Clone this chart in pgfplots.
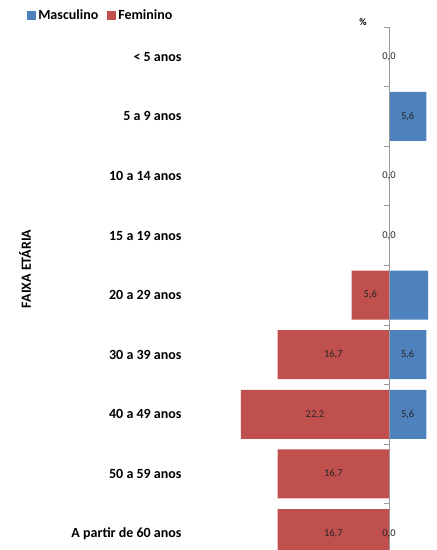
\documentclass[border=0pt]{standalone}
\usepackage{fontspec}
\setmainfont{Carlito}
\usepackage{pgfplots}
\pgfplotsset{compat=1.18}
\usepackage{pgfplotstable}
\definecolor{masc}{RGB}{79,129,189}
\definecolor{fem}{RGB}{192,80,77}

% bars: y = category index (0 = "< 5 anos")
\pgfplotstableread{
y val
1 5.6
4 11.1
5 5.6
6 5.6
}\masctab
\pgfplotstableread{
y val
4 5.6
5 16.7
6 22.2
7 16.7
8 16.7
}\femtab
% data labels (signed value: negative = feminino)
\pgfplotstableread{
y val
0 0
1 5.6
2 0
3 0
4 -5.6
5 -16.7
5 5.6
6 -22.2
6 5.6
7 -16.7
8 -16.7
8 0
}\labtab

\begin{document}
\begin{tikzpicture}
\useasboundingbox (0,0) rectangle (437pt,550pt);
\begin{axis}[
  at={(185pt,523.1pt)}, anchor=north west,
  scale only axis, width=243pt, height=536.4pt,
  xmin=-30.6, xmax=5.85, ymin=-0.5, ymax=8.5, y dir=reverse,
  axis line style={draw=none},
  xtick=\empty,
  ytick={0,...,8},
  yticklabels={{< 5 anos},{5 a 9 anos},{10 a 14 anos},{15 a 19 anos},{20 a 29 anos},{30 a 39 anos},{40 a 49 anos},{50 a 59 anos},{A partir de 60 anos}},
  major tick length=0pt,
  yticklabel style={font=\bfseries\fontsize{14}{16}\selectfont},
  xlabel={\%},
  xlabel style={at={(axis description cs:0.7325,1.009)}, anchor=center, font=\bfseries\fontsize{10}{12}\selectfont},
  ylabel={FAIXA ETÁRIA},
  ylabel style={at={(axis description cs:-0.658,0.549)}, anchor=center, font=\bfseries\fontsize{14}{16}\selectfont},
  legend style={at={(axis description cs:-0.652,1.033)}, anchor=north west, draw=none, fill=none,
    legend columns=2, font=\bfseries\fontsize{14}{16}\selectfont, inner sep=0pt,
    nodes={inner xsep=2.5pt, inner ysep=0pt},
    /tikz/column 2/.style={column sep=6pt}},
  legend cell align=left,
  /pgf/number format/.cd, fixed, fixed zerofill, precision=1, use comma, assume math mode=true,
]
\addplot[xbar, bar shift=0pt, bar width=49pt, fill=masc, draw=none,
  legend image code/.code={\fill[masc] (0pt,-4.5pt) rectangle (9pt,4.5pt);}]
  table[x=val, y=y] {\masctab};
\addlegendentry{Masculino}
\addplot[xbar, bar shift=0pt, bar width=49pt, fill=fem, draw=none,
  legend image code/.code={\fill[fem] (0pt,-4.5pt) rectangle (9pt,4.5pt);}]
  table[x expr=-\thisrow{val}, y=y] {\femtab};
\addlegendentry{Feminino}
\addplot[only marks, mark=none, forget plot,
  point meta={abs(\thisrow{val})},
  nodes near coords,
  nodes near coords style={anchor=center, font=\fontsize{10.5}{12}\selectfont, text=black!85}]
  table[x expr=\thisrow{val}/2, y=y] {\labtab};
\draw[gray!80, line width=0.8pt] (axis cs:0,-0.5) -- (axis cs:0,8.5);
\pgfplotsinvokeforeach{-0.5,0.5,1.5,2.5,3.5,4.5,5.5,6.5,7.5}{
  \draw[gray!80, line width=0.8pt] (axis cs:0,#1) -- ++(-5pt,0pt);
}
\end{axis}
\end{tikzpicture}
\end{document}
